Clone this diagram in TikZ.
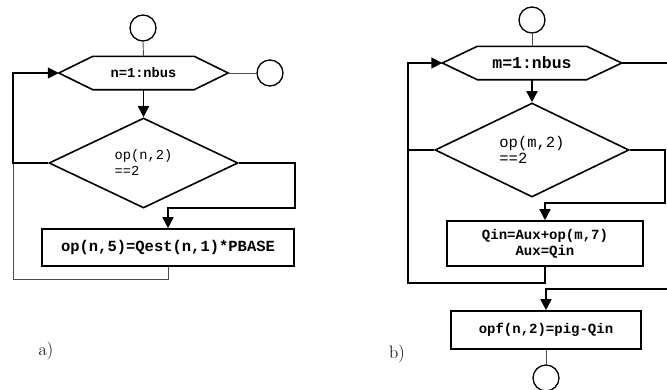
\documentclass[tikz,border=0pt]{standalone}
\usepackage{fontspec}
\setmonofont{Liberation Mono}
\usetikzlibrary{shapes.geometric,arrows.meta}
\begin{document}
\begin{tikzpicture}[x=1pt,y=-1pt,
  shapeline/.style={draw=black,line width=1.6pt},
  flow/.style={draw=black,line width=1.6pt},
  thinflow/.style={draw=black!70,line width=0.9pt},
  tip/.style={-{Triangle[length=11pt,width=11pt]}},
  term/.style={circle,draw=black,line width=1.3pt,minimum size=26pt,inner sep=0pt},
  hexbody/.style={rectangle,draw=none,inner sep=0pt,minimum height=33pt},
  cond/.style={diamond,shapeline,inner sep=0pt,align=left},
  stepbox/.style={rectangle,shapeline,inner sep=0pt,align=center},
  code/.style={font=\ttfamily\fontsize{#1}{16}\selectfont},
  boldcode/.style={font=\ttfamily\bfseries\fontsize{#1}{16}\selectfont},
  caption/.style={font=\fontsize{18}{21}\selectfont,inner sep=0pt}]
\clip (0,0) rectangle (667,389);

% ---------------- a) ----------------
\node[term] (sa) at (143,28) {};
\node[hexbody,minimum width=101pt,boldcode=13.7] (ha) at (143.5,73) {n=1:nbus};
\coordinate (haL) at ([xshift=-34pt]ha.west);
\coordinate (haR) at ([xshift=34pt]ha.east);
\draw[shapeline] (ha.north west) -- (ha.north east) -- (haR) -- (ha.south east)
  -- (ha.south west) -- (haL) -- cycle;
\node[term] (ea) at (270,73) {};
\node[cond,minimum width=189pt,minimum height=90pt,code=13.7] (da) at (143.5,163)
  {op(n,2)\\==2\hspace*{8pt}};
\node[stepbox,minimum width=252pt,minimum height=37pt,boldcode=15.5] (ba) at (168,247.5)
  {op(n,5)=Qest(n,1)*PBASE};
\node[caption] (la) at (46,351) {a)};

\coordinate (ka) at (295,208);
\coordinate (loopa) at (13,279);
\draw[thinflow] (sa.south) -- (ha.north);
\draw[thinflow] (haR) -- (ea.west);
\draw[flow,tip] (ha.south) -- (da.north);
\draw[flow,tip] (da.east) -| (ka) -| (ba.north);
\draw[thinflow] (ba.south) |- (loopa) -- (da.west -| loopa);
\draw[flow,tip] (da.west) -- (da.west -| loopa) -- (haL -| loopa) -- (haL);

% ---------------- b) ----------------
\node[term] (sb) at (532,20) {};
\node[hexbody,minimum width=109pt,boldcode=16.5] (hb) at (532,63) {m=1:nbus};
\coordinate (hbL) at ([xshift=-35pt]hb.west);
\coordinate (hbR) at ([xshift=35pt]hb.east);
\draw[shapeline] (hb.north west) -- (hb.north east) -- (hbR) -- (hb.south east)
  -- (hb.south west) -- (hbL) -- cycle;
\node[cond,minimum width=194pt,minimum height=94pt,code=15.5] (db) at (532,150)
  {op(m,2)\\==2};
\node[stepbox,minimum width=196pt,minimum height=45pt,boldcode=14] (bb) at (545,243.5)
  {Qin=Aux+op(m,7)\\Aux=Qin};
\node[stepbox,minimum width=190pt,minimum height=38pt,boldcode=14] (bc) at (546,330)
  {opf(n,2)=pig-Qin};
\node[term] (eb) at (546,378) {};
\node[caption] (lb) at (397,354) {b)};

\coordinate (kb) at (665,203);
\coordinate (loopb) at (408,283);
\coordinate (outb1) at (685,63);
\coordinate (outb2) at (685,289);
\draw[thinflow] (sb.south) -- (hb.north);
\draw[flow,tip] (hb.south) -- (db.north);
\draw[flow,tip] (db.east) -| (kb) -| (bb.north);
\draw[flow] (bb.south) |- (loopb) -- (db.west -| loopb);
\draw[flow,tip] (db.west) -- (db.west -| loopb) -- (hbL -| loopb) -- (hbL);
\draw[flow,tip] (hbR) -- (outb1) -- (outb2) -| (bc.north);
\draw[thinflow] (bc.south) -- (eb.north);
\end{tikzpicture}
\end{document}
